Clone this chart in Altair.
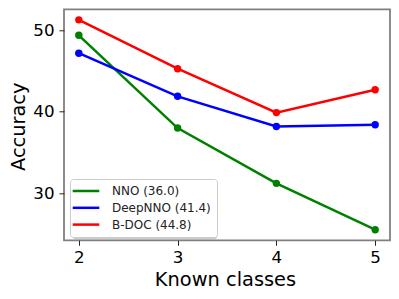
import altair as alt
import pandas as pd

known_classes = [2, 3, 4, 5]
series_names = ["NNO (36.0)", "DeepNNO (41.4)", "B-DOC (44.8)"]
nno = [49.4, 38.0, 31.2, 25.5]
deepnno = [47.2, 41.9, 38.2, 38.4]
bdoc = [51.3, 45.3, 39.9, 42.7]
colors = ["#008000", "#0000ff", "#ff0000"]

rows = []
for name, vals in zip(series_names, [nno, deepnno, bdoc]):
    for k, v in zip(known_classes, vals):
        rows.append({"classes": k, "acc": v, "method": name})
df = pd.DataFrame(rows)

FONT = "DejaVu Sans"

x = alt.X("classes:Q",
          scale=alt.Scale(domain=[1.85, 5.15], nice=False, zero=False),
          axis=alt.Axis(values=known_classes, title="Known classes", format="d",
                        titleBaseline="alphabetic", titleY=45, titleX=161,
                        labelPadding=4))
y = alt.Y("acc:Q",
          scale=alt.Scale(domain=[24.2, 52.6], nice=False, zero=False),
          axis=alt.Axis(values=[30, 40, 50], title="Accuracy",
                        titleBaseline="alphabetic", titleX=-39.5, titleY=117,
                        labelPadding=5))
color = alt.Color("method:N",
                  scale=alt.Scale(domain=series_names, range=colors),
                  legend=alt.Legend(title=None, orient="none", legendX=6, legendY=169.7,
                                    direction="vertical"))

shadow = alt.Chart(pd.DataFrame({"a": [0]})).mark_rect(
    color="#999999", opacity=0.5, cornerRadius=3
).encode(x=alt.value(8.8), x2=alt.value(153.1), y=alt.value(172.5), y2=alt.value(230.2))

lines = alt.Chart(df).mark_line(strokeWidth=2.5).encode(
    x=x, y=y, color=color, order="classes:Q")
points = alt.Chart(df).mark_circle(size=55, opacity=1).encode(
    x=x, y=y, color=alt.Color("method:N", scale=alt.Scale(domain=series_names, range=colors), legend=None))

chart = alt.layer(shadow, lines, points).properties(
    width=326, height=231,
    background="white",
    autosize=alt.AutoSizeParams(type="none"),
    padding={"left": 56, "top": 1.3, "right": 1, "bottom": 50},
).configure_view(
    stroke="#808080", strokeWidth=1.8
).configure_axis(
    domain=False, grid=False,
    tickColor="#222", tickWidth=1, tickSize=5,
    labelFont=FONT, labelFontSize=16.7, labelColor="black",
    titleFont=FONT, titleFontSize=19.4, titleFontWeight="normal", titleColor="black",
).configure_legend(
    symbolType="M-3,0H3", symbolSize=78.6,
    symbolStrokeWidth=2.5, symbolFillColor="transparent",
    symbolOffset=4, labelOffset=20,
    labelFont=FONT, labelFontSize=12, labelColor="#222", labelLimit=300,
    padding=6, rowPadding=4.8,
    fillColor="white", strokeColor="#cccccc", cornerRadius=3,
)

chart.save("out.html", embed_options={"renderer": "svg", "actions": False})
